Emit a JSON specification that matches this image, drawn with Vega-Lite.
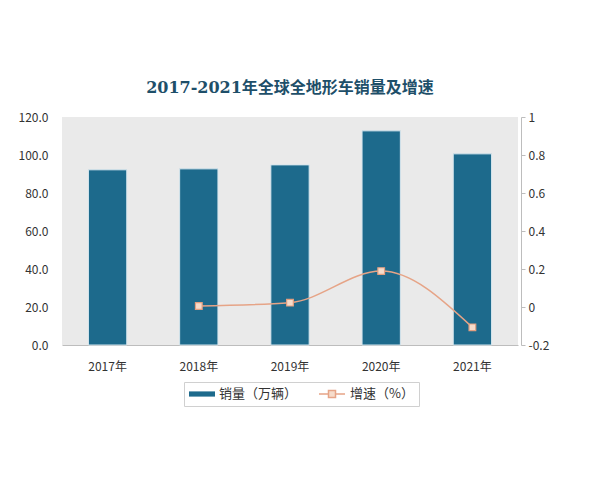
{
  "$schema": "https://vega.github.io/schema/vega-lite/v6.json",
  "autosize": "none",
  "width": 456,
  "height": 228,
  "padding": {"left": 62, "top": 117, "right": 82, "bottom": 135},
  "background": "white",
  "config": {
    "font": "Noto Sans CJK SC",
    "view": {"fill": "#eaeaea", "stroke": null}
  },
  "title": {
    "text": "2017-2021年全球全地形车销量及增速",
    "font": "DejaVu Serif, Noto Sans CJK SC",
    "fontSize": 16,
    "fontWeight": "bold",
    "color": "#1e4f69",
    "anchor": "middle",
    "offset": 15
  },
  "data": {
    "values": [
      {"year": "2017年", "sales": 92.2, "growth": null},
      {"year": "2018年", "sales": 92.7, "growth": 0.005},
      {"year": "2019年", "sales": 94.8, "growth": 0.023},
      {"year": "2020年", "sales": 112.7, "growth": 0.189},
      {"year": "2021年", "sales": 100.6, "growth": -0.107}
    ]
  },
  "encoding": {
    "x": {
      "field": "year",
      "type": "nominal",
      "scale": {"paddingInner": 0.58, "paddingOuter": 0.29},
      "axis": {
        "title": null,
        "labelAngle": 0,
        "ticks": false,
        "domainColor": "#bdbdbd",
        "labelPadding": 16,
        "labelFontSize": 12,
        "labelColor": "#333333"
      }
    }
  },
  "layer": [
    {
      "mark": {"type": "bar", "stroke": "#d6e6ee", "strokeWidth": 1},
      "encoding": {
        "y": {
          "field": "sales",
          "type": "quantitative",
          "scale": {"domain": [0, 120]},
          "axis": {
            "title": null,
            "values": [0, 20, 40, 60, 80, 100, 120],
            "format": ".1f",
            "grid": false,
            "domain": false,
            "ticks": false,
            "labelOverlap": false,
            "labelPadding": 14,
            "labelFontSize": 12,
            "labelColor": "#333333"
          }
        },
        "color": {
          "datum": "销量（万辆）",
          "scale": {"domain": ["销量（万辆）", "增速（%）"], "range": ["#1d6a8c", "transparent"]},
          "legend": {
            "title": null,
            "orient": "none",
            "direction": "horizontal",
            "legendX": 122,
            "legendY": 265,
            "strokeColor": "#d0d0d0",
            "padding": 5,
            "clipHeight": 14,
            "symbolType": "M-1,-0.2H1V0.2H-1Z",
            "symbolSize": 676,
            "symbolStrokeWidth": 0,
            "labelOffset": 4,
            "labelLimit": 0,
            "columnPadding": 22,
            "labelFontSize": 13,
            "labelColor": "#333333"
          }
        }
      }
    },
    {
      "encoding": {
        "y": {
          "field": "growth",
          "type": "quantitative",
          "scale": {"domain": [-0.2, 1]},
          "axis": {
            "orient": "right",
            "title": null,
            "values": [-0.2, 0, 0.2, 0.4, 0.6, 0.8, 1],
            "labelExpr": "replace(format(datum.value, '~g'), '−', '-')",
            "labelOverlap": false,
            "grid": false,
            "domainColor": "#bdbdbd",
            "tickColor": "#bdbdbd",
            "tickSize": 4,
            "offset": 3,
            "labelPadding": 3,
            "labelFontSize": 12,
            "labelColor": "#333333"
          }
        }
      },
      "layer": [
        {
          "mark": {"type": "line", "interpolate": "monotone", "strokeWidth": 1.5},
          "encoding": {
            "stroke": {
              "datum": "增速（%）",
              "scale": {"range": ["#e6a487"]},
              "legend": {
                "title": null,
                "orient": "none",
                "direction": "horizontal",
                "legendX": 256,
                "legendY": 270,
                "padding": 0,
                "clipHeight": 14,
                "symbolType": "M-1,0H-0.27M0.27,0H1M-0.27,-0.27H0.27V0.27H-0.27Z",
                "symbolSize": 676,
                "symbolStrokeWidth": 1.5,
                "symbolFillColor": "#f6dccb",
                "labelOpacity": 0,
                "labelFontSize": 13
              }
            }
          }
        },
        {
          "mark": {"type": "point", "shape": "square", "size": 45, "filled": true, "fill": "#f6dccb", "stroke": "#e39f80", "strokeWidth": 1.2, "opacity": 1}
        }
      ]
    }
  ],
  "resolve": {"scale": {"y": "independent"}}
}
